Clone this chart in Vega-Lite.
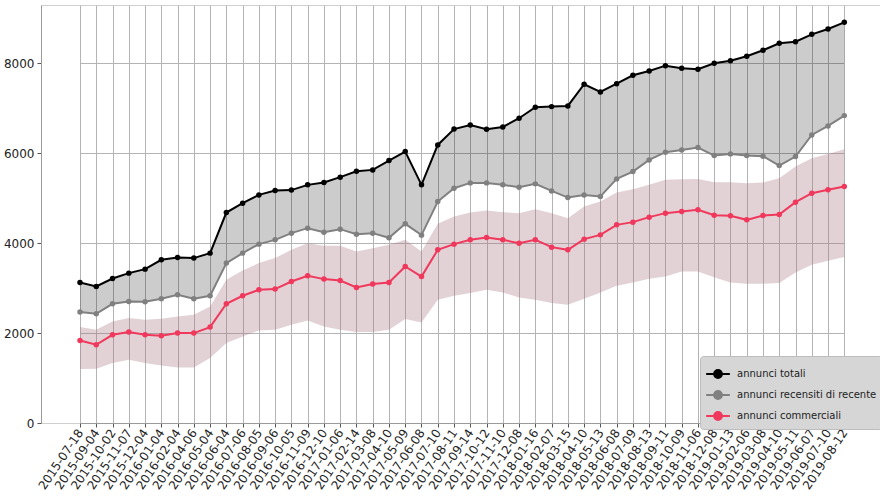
{
  "$schema": "https://vega.github.io/schema/vega-lite/v6.json",
  "width": 839,
  "height": 418,
  "autosize": {"type": "none"},
  "padding": {"left": 41, "top": 5, "right": 0, "bottom": 75},
  "background": "white",
  "config": {
    "font": "DejaVu Sans",
    "view": {"stroke": "#cfcfcf", "strokeWidth": 1},
    "axis": {"labelFont": "DejaVu Sans", "labelColor": "#222", "gridColor": "#b4b4b4", "gridWidth": 1, "domainColor": "#9a9a9a", "tickColor": "#555", "tickSize": 4}
  },
  "data": {"values": [
    {"date": "2015-07-18", "totali": 3124, "recensiti": 2467, "commerciali": 1836, "hi": 2133, "lo": 1200},
    {"date": "2015-09-04", "totali": 3036, "recensiti": 2429, "commerciali": 1740, "hi": 2073, "lo": 1207},
    {"date": "2015-10-02", "totali": 3213, "recensiti": 2651, "commerciali": 1962, "hi": 2258, "lo": 1333},
    {"date": "2015-11-07", "totali": 3333, "recensiti": 2702, "commerciali": 2022, "hi": 2333, "lo": 1407},
    {"date": "2015-12-04", "totali": 3422, "recensiti": 2696, "commerciali": 1962, "hi": 2296, "lo": 1333},
    {"date": "2016-01-04", "totali": 3629, "recensiti": 2762, "commerciali": 1940, "hi": 2318, "lo": 1280},
    {"date": "2016-02-04", "totali": 3681, "recensiti": 2851, "commerciali": 2000, "hi": 2369, "lo": 1236},
    {"date": "2016-04-06", "totali": 3667, "recensiti": 2762, "commerciali": 2000, "hi": 2407, "lo": 1236},
    {"date": "2016-05-04", "totali": 3778, "recensiti": 2829, "commerciali": 2133, "hi": 2591, "lo": 1444},
    {"date": "2016-06-04", "totali": 4680, "recensiti": 3556, "commerciali": 2651, "hi": 3184, "lo": 1778},
    {"date": "2016-07-06", "totali": 4889, "recensiti": 3778, "commerciali": 2829, "hi": 3391, "lo": 1924},
    {"date": "2016-08-05", "totali": 5073, "recensiti": 3978, "commerciali": 2962, "hi": 3556, "lo": 2058},
    {"date": "2016-09-06", "totali": 5169, "recensiti": 4073, "commerciali": 2978, "hi": 3667, "lo": 2073},
    {"date": "2016-10-05", "totali": 5180, "recensiti": 4222, "commerciali": 3147, "hi": 3851, "lo": 2184},
    {"date": "2016-11-09", "totali": 5296, "recensiti": 4333, "commerciali": 3273, "hi": 4000, "lo": 2280},
    {"date": "2016-12-10", "totali": 5347, "recensiti": 4244, "commerciali": 3200, "hi": 3940, "lo": 2147},
    {"date": "2017-01-06", "totali": 5467, "recensiti": 4311, "commerciali": 3169, "hi": 3940, "lo": 2073},
    {"date": "2017-02-14", "totali": 5600, "recensiti": 4200, "commerciali": 3013, "hi": 3813, "lo": 2022},
    {"date": "2017-03-08", "totali": 5629, "recensiti": 4222, "commerciali": 3089, "hi": 3889, "lo": 2022},
    {"date": "2017-04-10", "totali": 5836, "recensiti": 4118, "commerciali": 3124, "hi": 3962, "lo": 2073},
    {"date": "2017-05-09", "totali": 6036, "recensiti": 4429, "commerciali": 3480, "hi": 4073, "lo": 2311},
    {"date": "2017-06-08", "totali": 5296, "recensiti": 4178, "commerciali": 3258, "hi": 3813, "lo": 2236},
    {"date": "2017-07-10", "totali": 6184, "recensiti": 4924, "commerciali": 3851, "hi": 4429, "lo": 2740},
    {"date": "2017-08-11", "totali": 6536, "recensiti": 5222, "commerciali": 3978, "hi": 4591, "lo": 2829},
    {"date": "2017-09-14", "totali": 6629, "recensiti": 5340, "commerciali": 4073, "hi": 4680, "lo": 2889},
    {"date": "2017-10-12", "totali": 6533, "recensiti": 5340, "commerciali": 4124, "hi": 4724, "lo": 2962},
    {"date": "2017-11-10", "totali": 6584, "recensiti": 5296, "commerciali": 4073, "hi": 4689, "lo": 2902},
    {"date": "2017-12-08", "totali": 6778, "recensiti": 5244, "commerciali": 4000, "hi": 4667, "lo": 2791},
    {"date": "2018-01-16", "totali": 7022, "recensiti": 5318, "commerciali": 4073, "hi": 4756, "lo": 2740},
    {"date": "2018-02-07", "totali": 7036, "recensiti": 5162, "commerciali": 3911, "hi": 4667, "lo": 2667},
    {"date": "2018-03-15", "totali": 7051, "recensiti": 5013, "commerciali": 3851, "hi": 4556, "lo": 2629},
    {"date": "2018-04-10", "totali": 7533, "recensiti": 5073, "commerciali": 4089, "hi": 4813, "lo": 2762},
    {"date": "2018-05-13", "totali": 7362, "recensiti": 5036, "commerciali": 4184, "hi": 4924, "lo": 2902},
    {"date": "2018-06-08", "totali": 7547, "recensiti": 5429, "commerciali": 4407, "hi": 5124, "lo": 3051},
    {"date": "2018-07-09", "totali": 7733, "recensiti": 5592, "commerciali": 4467, "hi": 5200, "lo": 3124},
    {"date": "2018-08-13", "totali": 7829, "recensiti": 5851, "commerciali": 4578, "hi": 5296, "lo": 3207},
    {"date": "2018-09-11", "totali": 7947, "recensiti": 6022, "commerciali": 4667, "hi": 5407, "lo": 3258},
    {"date": "2018-10-09", "totali": 7889, "recensiti": 6073, "commerciali": 4702, "hi": 5422, "lo": 3369},
    {"date": "2018-11-06", "totali": 7867, "recensiti": 6125, "commerciali": 4740, "hi": 5429, "lo": 3369},
    {"date": "2018-12-08", "totali": 8000, "recensiti": 5947, "commerciali": 4622, "hi": 5356, "lo": 3244},
    {"date": "2019-01-13", "totali": 8058, "recensiti": 5985, "commerciali": 4607, "hi": 5356, "lo": 3124},
    {"date": "2019-02-06", "totali": 8156, "recensiti": 5947, "commerciali": 4518, "hi": 5333, "lo": 3096},
    {"date": "2019-03-08", "totali": 8289, "recensiti": 5933, "commerciali": 4613, "hi": 5347, "lo": 3096},
    {"date": "2019-04-10", "totali": 8444, "recensiti": 5725, "commerciali": 4636, "hi": 5444, "lo": 3111},
    {"date": "2019-05-11", "totali": 8481, "recensiti": 5925, "commerciali": 4911, "hi": 5702, "lo": 3347},
    {"date": "2019-06-07", "totali": 8644, "recensiti": 6407, "commerciali": 5111, "hi": 5889, "lo": 3518},
    {"date": "2019-07-10", "totali": 8762, "recensiti": 6607, "commerciali": 5185, "hi": 5985, "lo": 3607},
    {"date": "2019-08-12", "totali": 8911, "recensiti": 6836, "commerciali": 5258, "hi": 6089, "lo": 3689}
  ]},
  "encoding": {
    "x": {
      "field": "date", "type": "ordinal",
      "scale": {"type": "point", "padding": 0, "range": [39, 803.3]},
      "axis": {"title": null, "labelAngle": -56, "labelAlign": "right", "labelBaseline": "middle", "labelFontSize": 12, "labelPadding": 3, "grid": true}
    }
  },
  "layer": [
    {
      "mark": {"type": "area", "color": "#000000", "opacity": 0.2},
      "encoding": {
        "y": {"field": "totali", "type": "quantitative", "scale": {"domain": [0, 9296], "nice": false},
              "axis": {"title": null, "values": [0, 2000, 4000, 6000, 8000], "format": "d", "labelFontSize": 12, "grid": true, "labelPadding": 3}},
        "y2": {"field": "recensiti"}
      }
    },
    {
      "mark": {"type": "area", "color": "#a8737f", "opacity": 0.33},
      "encoding": {
        "y": {"field": "hi", "type": "quantitative"},
        "y2": {"field": "lo"}
      }
    },
    {
      "transform": [
        {"fold": ["totali", "recensiti", "commerciali"], "as": ["serie", "valore"]}
      ],
      "mark": {"type": "line", "strokeWidth": 2, "point": {"size": 30, "filled": true, "opacity": 1}},
      "encoding": {
        "y": {"field": "valore", "type": "quantitative"},
        "color": {
          "field": "serie", "type": "nominal",
          "scale": {
            "domain": ["totali", "recensiti", "commerciali"],
            "range": ["#000000", "#808080", "#f0385c"]
          },
          "legend": {
            "title": null,
            "orient": "none",
            "legendX": 659,
            "legendY": 351,
            "labelExpr": "datum.value == 'totali' ? 'annunci totali' : datum.value == 'recensiti' ? 'annunci recensiti di recente' : 'annunci commerciali'",
            "labelFontSize": 10,
            "labelFont": "DejaVu Sans",
            "labelColor": "#222",
            "symbolType": "M-1,0L1,0M-0.33,0A0.33,0.33,0,1,1,0.33,0A0.33,0.33,0,1,1,-0.33,0Z",
            "symbolSize": 560,
            "symbolStrokeWidth": 2,
            "rowPadding": 0,
            "padding": 5,
            "fillColor": "#d6d6d6",
            "strokeColor": "#bdbdbd",
            "cornerRadius": 3,
            "labelOffset": 6,
            "encode": {"symbols": {"update": {"fill": {"scale": "color", "field": "value"}, "fillOpacity": {"value": 1}}}}
          }
        },
        "order": {"field": "date"}
      }
    }
  ]
}
